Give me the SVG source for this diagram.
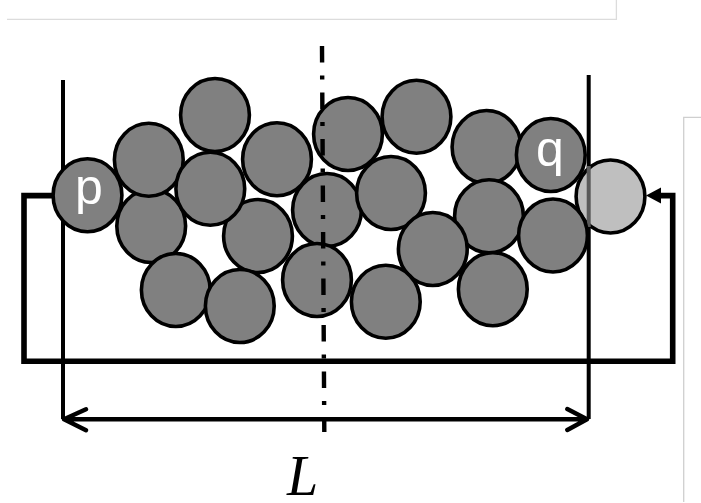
<svg xmlns="http://www.w3.org/2000/svg" width="701" height="503" viewBox="0 0 701 503">
<style>
.ball{fill:#808080;stroke:#000;stroke-width:3.6}
.lbl{font-family:"Liberation Sans",Arial,sans-serif;font-size:50px;fill:#fff;text-anchor:middle}
.wall{fill:none;stroke:#000;stroke-width:4}
</style>
<rect width="701" height="503" fill="#fff"/>
<path d="M7 19.3H616.4V0" fill="none" stroke="#dcdcdc" stroke-width="1.3"/>
<path d="M701 117.3H683.7V502" fill="none" stroke="#cfcfcf" stroke-width="1.3"/>
<g id="connectors">
<path id="wall-left" class="wall" d="M63 80V419"/>
<path id="wall-right" class="wall" d="M588.7 75V419"/>
<path id="loop" fill="none" stroke="#000" stroke-width="5.6" d="M54 195.6H24V361.3H672.7V195.6H661"/>
<path d="M646 195.6L661 187.6V203.6Z" fill="#000"/>
<path id="dimension" fill="none" stroke="#000" stroke-width="4.4" stroke-linecap="round" stroke-linejoin="round" d="M86 409.3L64 419.3L86 430.3M64 419.3H587M567.3 409L587 419.3L567.3 430"/>
</g>
<g id="n1"><ellipse class="ball" cx="215" cy="115" rx="34.4" ry="36.5"/></g>
<g id="n2"><ellipse class="ball" cx="151.2" cy="226" rx="34.4" ry="36.5"/></g>
<g id="n3"><ellipse class="ball" cx="148.8" cy="159.7" rx="34.4" ry="36.5"/></g>
<g id="n4"><ellipse class="ball" cx="277" cy="159.2" rx="34.4" ry="36.5"/></g>
<g id="n5"><ellipse class="ball" cx="258" cy="236" rx="34.4" ry="36.5"/></g>
<g id="n6"><ellipse class="ball" cx="210.3" cy="188.8" rx="34.4" ry="36.5"/></g>
<g id="n7"><ellipse class="ball" cx="327" cy="210" rx="34.4" ry="36.5"/></g>
<g id="n8"><ellipse class="ball" cx="348" cy="134" rx="34.4" ry="36.5"/></g>
<g id="n9"><ellipse class="ball" cx="416.5" cy="116.8" rx="34.4" ry="36.5"/></g>
<g id="n10"><ellipse class="ball" cx="391" cy="193" rx="34.4" ry="36.5"/></g>
<g id="n11"><ellipse class="ball" cx="486.5" cy="147" rx="34.4" ry="36.5"/></g>
<g id="n12"><ellipse class="ball" cx="489" cy="216.3" rx="34.4" ry="36.5"/></g>
<g id="n13"><ellipse class="ball" cx="432.8" cy="249" rx="34.4" ry="36.5"/></g>
<g id="n14"><ellipse class="ball" cx="385.8" cy="301.7" rx="34.4" ry="36.5"/></g>
<g id="n15"><ellipse class="ball" cx="492.8" cy="289.2" rx="34.4" ry="36.5"/></g>
<g id="n16"><ellipse class="ball" cx="175.8" cy="290" rx="34.4" ry="36.5"/></g>
<g id="n17"><ellipse class="ball" cx="239.8" cy="306" rx="34.4" ry="36.5"/></g>
<g id="n18"><ellipse class="ball" cx="317" cy="280" rx="34.4" ry="36.5"/></g>
<g id="ghost"><ellipse cx="610.5" cy="196.5" rx="34.4" ry="36.5" fill="#bfbfbf" stroke="#000" stroke-width="3.6"/><path d="M588.7 166V227" stroke="#5a5a5a" stroke-width="4" fill="none"/></g>
<g id="n19"><ellipse class="ball" cx="553" cy="235.5" rx="34.4" ry="36.5"/></g>
<g id="q"><ellipse class="ball" cx="550.8" cy="155" rx="34.4" ry="36.5"/><text class="lbl" x="550" y="166">q</text></g>
<g id="p"><ellipse class="ball" cx="87.5" cy="195.3" rx="34.4" ry="36.5"/><text class="lbl" x="89" y="204">p</text></g>
<path id="axis" fill="none" stroke="#000" stroke-width="4.4" stroke-dasharray="16.5 13 4 13" d="M322 46L324.3 432"/>
<text x="287" y="495" font-family="'Liberation Serif','Times New Roman',serif" font-style="italic" font-size="56" fill="#000">L</text>
</svg>
